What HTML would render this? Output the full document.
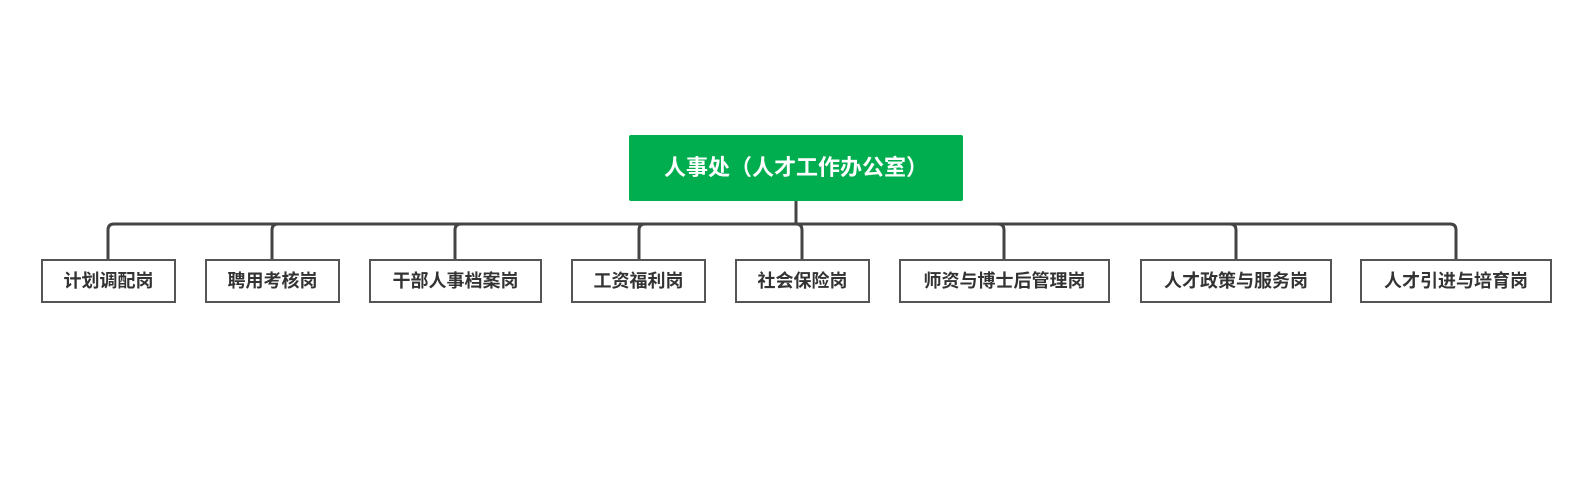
<!DOCTYPE html>
<html><head><meta charset="utf-8"><style>
html,body{margin:0;padding:0;background:#fff;width:1593px;height:497px;overflow:hidden;position:relative;font-family:"Liberation Sans","Noto Sans CJK SC",sans-serif;}
.root{position:absolute;left:629px;top:135px;width:334px;height:66px;background:#00ae4f;border-radius:2px;color:#fff;font-weight:bold;font-size:22px;line-height:66px;text-align:center;}
.c{position:absolute;top:259px;height:40px;border:2px solid #555;box-sizing:content-box;background:#fff;color:#333;font-weight:bold;font-size:18px;line-height:40px;text-align:center;}
</style></head><body>
<svg width="1593" height="497" style="position:absolute;left:0;top:0">
<g fill="none" stroke="#444" stroke-width="3">
<line x1="796" y1="201" x2="796" y2="224"/>
<path d="M108 260 V230 Q108 224 114 224 H1450 Q1456 224 1456 230 V260"/>
<path d="M272 260 V230 Q272 224 278 224"/>
<path d="M455 260 V230 Q455 224 461 224"/>
<path d="M639 260 V230 Q639 224 645 224"/>
<path d="M802 260 V230 Q802 224 796 224"/>
<path d="M1004 260 V230 Q1004 224 998 224"/>
<path d="M1236 260 V230 Q1236 224 1230 224"/>
</g></svg>
<div class="root">人事处（人才工作办公室）</div>
<div class="c" style="left:41px;width:131px">计划调配岗</div>
<div class="c" style="left:205px;width:131px">聘用考核岗</div>
<div class="c" style="left:369px;width:169px">干部人事档案岗</div>
<div class="c" style="left:571px;width:131px">工资福利岗</div>
<div class="c" style="left:735px;width:131px">社会保险岗</div>
<div class="c" style="left:899px;width:207px">师资与博士后管理岗</div>
<div class="c" style="left:1140px;width:188px">人才政策与服务岗</div>
<div class="c" style="left:1360px;width:188px">人才引进与培育岗</div>
</body></html>
